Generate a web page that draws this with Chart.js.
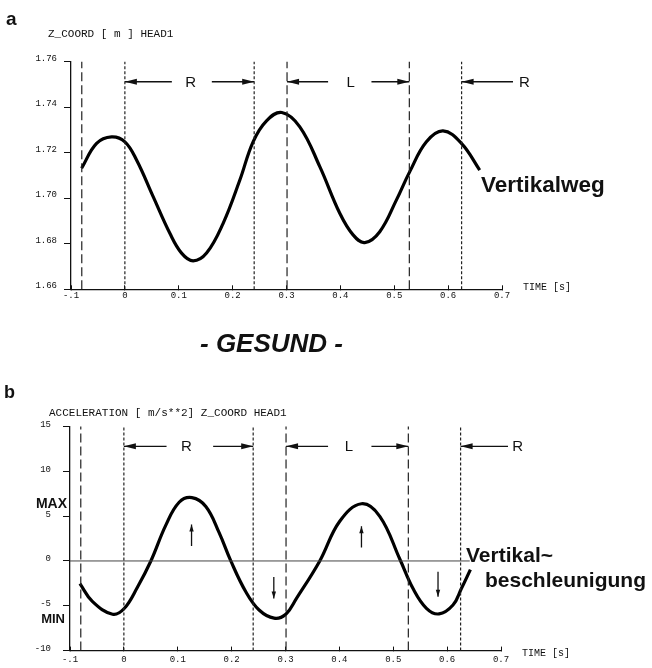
<!DOCTYPE html>
<html><head><meta charset="utf-8">
<script src="https://cdn.jsdelivr.net/npm/chart.js@4/dist/chart.umd.min.js"></script>
<style>
html,body{margin:0;padding:0;background:#fff;width:652px;height:668px;overflow:hidden;}
canvas{position:absolute;left:0;}
.t{position:absolute;white-space:nowrap;color:#111;line-height:1;}
.mono{font-family:"Liberation Mono","DejaVu Sans Mono",monospace;}
.sans{font-family:"Liberation Sans",Arial,sans-serif;font-weight:bold;}
</style></head><body>
<canvas id="c1" width="652" height="305" style="top:0"></canvas>
<canvas id="c2" width="652" height="338" style="top:330px"></canvas>

<div class="t sans" style="left:6px;top:9px;font-size:19px">a</div>
<div class="t mono" style="left:48px;top:29px;font-size:11px">Z_COORD [ m ] HEAD1</div>
<div class="t mono" style="left:523px;top:283px;font-size:10px">TIME [s]</div>
<div class="t sans" style="left:481px;top:174px;font-size:22.5px">Vertikalweg</div>
<div class="t sans" style="left:200px;top:330px;font-size:26px;font-style:italic">- GESUND -</div>
<div class="t sans" style="left:4px;top:383px;font-size:18px">b</div>
<div class="t mono" style="left:49px;top:408px;font-size:11px">ACCELERATION [ m/s**2] Z_COORD HEAD1</div>
<div class="t sans" style="right:585px;top:496px;font-size:14px">MAX</div>
<div class="t sans" style="right:587px;top:612px;font-size:13px">MIN</div>
<div class="t sans" style="left:466px;top:544px;font-size:21px">Vertikal~</div>
<div class="t sans" style="left:485px;top:569px;font-size:21px">beschleunigung</div>
<div class="t mono" style="left:522px;top:649px;font-size:10px">TIME [s]</div>

<script>
// ---------- data ----------
const xTicks = [-0.1, 0, 0.1, 0.2, 0.3, 0.4, 0.5, 0.6, 0.7];
const xTickLabels = ['-.1', '0', '0.1', '0.2', '0.3', '0.4', '0.5', '0.6', '0.7'];
const zTicks = [1.66, 1.68, 1.70, 1.72, 1.74, 1.76];
const zTickLabels = ['1.66', '1.68', '1.70', '1.72', '1.74', '1.76'];
const accTicks = [-10, -5, 0, 5, 10, 15];
const accTickLabels = ['-10', '-5', '0', '5', '10', '15'];

// Vertikalweg (Z_COORD, m)
const timeZ = [-0.0803, -0.0525, -0.0247, 0, 0.0217, 0.0525, 0.0835, 0.1052, 0.1267, 0.1516, 0.1824, 0.2134, 0.2380, 0.2629, 0.2913, 0.3247, 0.3618, 0.3989, 0.4236, 0.4453, 0.4731, 0.5041, 0.5288, 0.5597, 0.5905, 0.6247, 0.6586];
const zCoord = [1.7132, 1.7241, 1.7270, 1.7248, 1.7168, 1.7007, 1.6846, 1.6759, 1.6725, 1.6759, 1.6890, 1.7080, 1.7248, 1.7340, 1.7377, 1.7314, 1.7139, 1.6934, 1.6839, 1.6805, 1.6853, 1.6993, 1.7117, 1.7248, 1.7296, 1.7241, 1.7124];

// Vertikalbeschleunigung (m/s**2)
const timeAcc = [-0.0816, -0.0581, -0.0210, 0.0006, 0.0254, 0.0501, 0.0779, 0.1026, 0.1262, 0.1521, 0.1768, 0.1985, 0.2263, 0.2510, 0.2788, 0.3006, 0.3204, 0.3636, 0.4007, 0.4410, 0.4750, 0.5121, 0.5367, 0.5616, 0.5850, 0.6109, 0.6265, 0.6432];
const accel = [-2.53, -4.54, -5.94, -5.3, -2.9, 0.0, 4.0, 6.55, 7.07, 6.08, 3.16, 0.0, -3.44, -5.47, -6.38, -5.94, -4.18, 0.0, 4.43, 6.38, 4.98, 0.22, -3.08, -5.28, -5.91, -4.92, -3.08, -0.96];

// phase boundaries (s) and their dash type
const phaseBounds = [-0.08, 0, 0.24, 0.301, 0.528, 0.625];
const phaseDash = ['long', 'short', 'short', 'long', 'long', 'short'];

// phase span arrows (R / L)
const spanLabels = ['R', 'L', 'R'];
const spanTip = [0, 0.24, 0.301, 0.528, 0.625];
const spanTailTop = [0.0872, 0.1614, 0.3772, 0.4577, 0.7204];
const spanLabelXTop = [0.122, 0.419, 0.7415];
const spanYTop = 1.7512;
const spanTailAcc = [0.0792, 0.1657, 0.379, 0.4595, 0.713];
const spanLabelXAcc = [0.1163, 0.4175, 0.731];
const spanYAcc = 12.79;

// small direction arrows in acceleration plot
const dirArrowX = [0.1256, 0.2783, 0.441, 0.5831];
const dirArrowTail = [1.68, -1.79, 1.51, -1.2];
const dirArrowTip = [4.07, -4.18, 3.88, -4.0];

// zero line extent
const zeroLineX = [-0.1, 0.642];

// ---------- helpers ----------
const INK = '#111';
const tickFont = {family: 'Liberation Mono', size: 9};
const dashes = {long: [9, 4], short: [3, 2]};

const annot = {
  id: 'annot',
  afterDatasetsDraw(chart, args, opts) {
    const ctx = chart.ctx, xs = chart.scales.x, ys = chart.scales.y;
    ctx.save();
    ctx.fillStyle = INK;
    (opts.heads || []).forEach(h => {
      const tx = xs.getPixelForValue(h.x), ty = ys.getPixelForValue(h.y);
      const fx = xs.getPixelForValue(h.fx), fy = ys.getPixelForValue(h.fy);
      let dx = tx - fx, dy = ty - fy; const L = Math.hypot(dx, dy) || 1; dx /= L; dy /= L;
      ctx.beginPath();
      ctx.moveTo(tx, ty);
      ctx.lineTo(tx - dx * h.len - dy * h.hw, ty - dy * h.len + dx * h.hw);
      ctx.lineTo(tx - dx * h.len + dy * h.hw, ty - dy * h.len - dx * h.hw);
      ctx.closePath();
      ctx.fill();
    });
    ctx.font = '15px "Liberation Sans", Arial, sans-serif';
    ctx.textAlign = 'center';
    ctx.textBaseline = 'middle';
    (opts.labels || []).forEach(l => {
      ctx.fillText(l.text, xs.getPixelForValue(l.x), ys.getPixelForValue(l.y) + 1);
    });
    ctx.restore();
  }
};

function xScale(h, pad) {
  return {
    type: 'linear', min: -0.1, max: 0.7,
    afterBuildTicks: s => { s.ticks = xTicks.map(v => ({value: v})); },
    afterFit: s => { s.height = h; },
    ticks: {autoSkip: false, maxRotation: 0, padding: pad, color: INK, font: tickFont,
            callback: (v, i) => xTickLabels[i]},
    grid: {display: true, drawOnChartArea: false, drawTicks: true, tickLength: -4, color: INK, lineWidth: 1},
    border: {display: true, color: INK, width: 1.3}
  };
}
function yScale(min, max, ticks, labels, w, pad, off) {
  return {
    type: 'linear', min: min, max: max,
    afterBuildTicks: s => { s.ticks = ticks.map(v => ({value: v})); },
    afterFit: s => { s.width = w; },
    ticks: {autoSkip: false, padding: pad, labelOffset: off, color: INK, font: tickFont,
            callback: (v, i) => labels[i]},
    grid: {display: true, drawOnChartArea: false, drawTicks: true, tickLength: 7, color: INK, lineWidth: 1},
    border: {display: true, color: INK, width: 1.3}
  };
}
function boundSets(ymin, ymax) {
  return phaseBounds.map((b, i) => ({
    data: [{x: b, y: ymin}, {x: b, y: ymax}],
    borderColor: '#222', borderWidth: 1.2, borderDash: dashes[phaseDash[i]],
    pointRadius: 0, tension: 0, clip: false
  }));
}
function spanSets(tails, y) {
  return spanTip.map((t, i) => ({
    data: [{x: Math.min(t, tails[i]), y: y}, {x: Math.max(t, tails[i]), y: y}],
    borderColor: INK, borderWidth: 1.3, pointRadius: 0, tension: 0, clip: false
  }));
}
function spanHeads(tails, y) {
  return spanTip.map((t, i) => ({x: t, y: y, fx: tails[i], fy: y, len: 12, hw: 3}));
}
function spanText(xsArr, y) {
  return spanLabels.map((s, i) => ({text: s, x: xsArr[i], y: y}));
}
const common = {
  responsive: false, maintainAspectRatio: false, animation: false, events: [],
  plugins: {legend: {display: false}, tooltip: {enabled: false}}
};

// ---------- top chart ----------
new Chart(document.getElementById('c1'), {
  type: 'line',
  data: {datasets: [
    ...boundSets(1.66, 1.76),
    ...spanSets(spanTailTop, spanYTop),
    {data: timeZ.map((t, i) => ({x: t, y: zCoord[i]})), borderColor: '#000', borderWidth: 3.2,
     pointRadius: 0, tension: 0.4, borderCapStyle: 'butt', borderJoinStyle: 'round'}
  ]},
  options: {...common,
    layout: {padding: {left: 0, top: 61.7, right: 150, bottom: 0}},
    scales: {x: xScale(15.7, 5), y: yScale(1.66, 1.76, zTicks, zTickLabels, 71, 7, -3.5)},
    plugins: {...common.plugins, annot: {heads: spanHeads(spanTailTop, spanYTop), labels: spanText(spanLabelXTop, spanYTop)}}
  },
  plugins: [annot]
});

// ---------- bottom chart ----------
new Chart(document.getElementById('c2'), {
  type: 'line',
  data: {datasets: [
    ...boundSets(-10, 15),
    ...spanSets(spanTailAcc, spanYAcc),
    {data: zeroLineX.map(x => ({x: x, y: 0})), borderColor: '#444', borderWidth: 1, pointRadius: 0, tension: 0},
    ...dirArrowX.map((x, i) => ({data: [{x: x, y: dirArrowTail[i]}, {x: x, y: dirArrowTip[i]}],
      borderColor: INK, borderWidth: 1.3, pointRadius: 0, tension: 0})),
    {data: timeAcc.map((t, i) => ({x: t, y: accel[i]})), borderColor: '#000', borderWidth: 3.2,
     pointRadius: 0, tension: 0.4, borderCapStyle: 'butt', borderJoinStyle: 'round'}
  ]},
  options: {...common,
    layout: {padding: {left: 0, top: 96.5, right: 151, bottom: 0}},
    scales: {x: xScale(14, 8), y: yScale(-10, 15, accTicks, accTickLabels, 70, 12, -2)},
    plugins: {...common.plugins, annot: {
      heads: [...spanHeads(spanTailAcc, spanYAcc),
              ...dirArrowX.map((x, i) => ({x: x, y: dirArrowTip[i], fx: x, fy: dirArrowTail[i], len: 7, hw: 2.2}))],
      labels: spanText(spanLabelXAcc, spanYAcc)}}
  },
  plugins: [annot]
});
</script>
</body></html>
